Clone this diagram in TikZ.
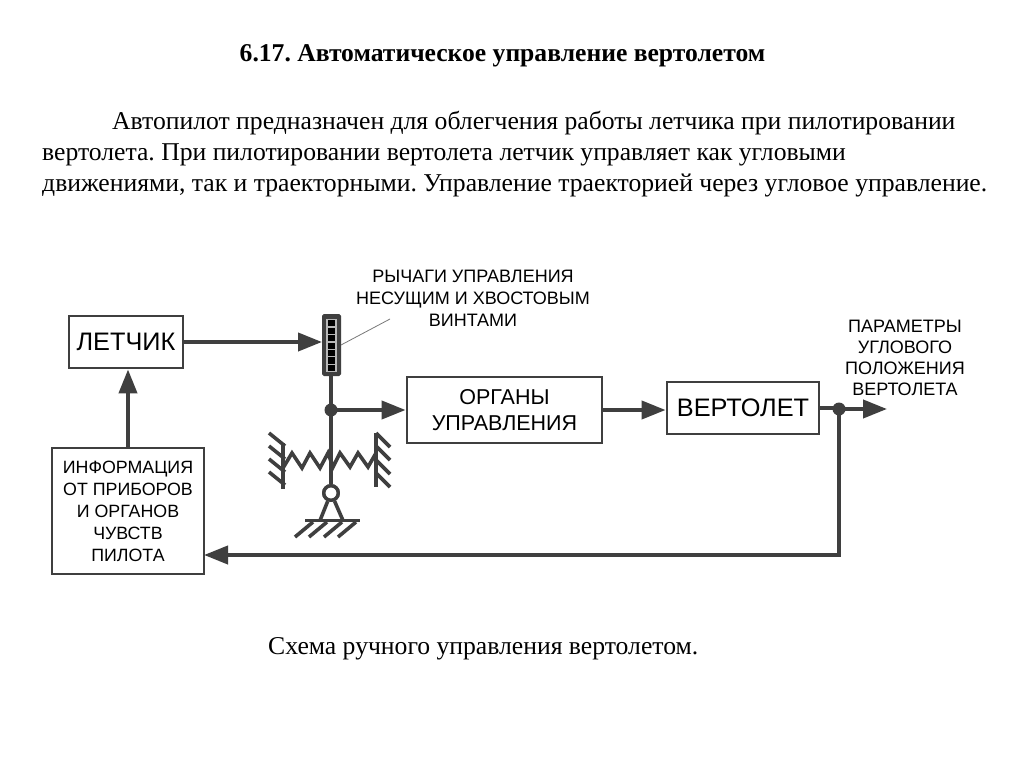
\documentclass[tikz,border=0pt]{standalone}
\usepackage{fontspec}
\setmainfont{Liberation Serif}
\newfontfamily\arialf{Liberation Sans}
\usetikzlibrary{arrows.meta,calc}
\definecolor{ink}{HTML}{3F3F3F}
\tikzset{
 blockbox/.style={draw=ink,line width=2.8pt,fill=white,inner sep=0pt,font=\arialf,align=center,text=black},
 lab/.style={font=\arialf\fontsize{18}{22}\selectfont,align=center,text=black,inner sep=0pt},
 para/.style={anchor=base west,inner sep=0pt,font=\frenchspacing\fontsize{25.65}{28}\selectfont,text=black},
 conn/.style={draw=ink,line width=4pt},
 arrowc/.style={conn,-{Triangle[length=24pt,width=18pt]}},
 mech/.style={draw=ink,line width=3.6pt},
 dot/.style={circle,fill=ink,inner sep=0pt,minimum size=13pt},
 pivotc/.style={circle,draw=ink,fill=white,line width=3.4pt,minimum size=14.5pt,inner sep=0pt},
}
\begin{document}
\begin{tikzpicture}[x=1pt,y=-1pt]
\useasboundingbox (0,0) rectangle (1024,767);
\fill[white] (0,0) rectangle (1024,767);
% texts
\node[anchor=base,inner sep=0pt,font=\frenchspacing\bfseries\fontsize{25.6}{28}\selectfont] (title) at (502.5,62) {6.17. Автоматическое управление вертолетом};
\node[para] (p1) at (112,129.5) {Автопилот предназначен для облегчения работы летчика при пилотировании};
\node[para] (p2) at (42,160.5) {вертолета. При пилотировании вертолета летчик управляет как угловыми};
\node[para] (p3) at (42,192) {движениями, так и траекторными. Управление траекторией через угловое управление.};
\node[para] (cap) at (268,654) {Схема ручного управления вертолетом.};
% blocks
\node[blockbox,minimum width=114pt,minimum height=52pt,font=\arialf\fontsize{25.3}{28}\selectfont] (pilot) at (126,342) {ЛЕТЧИК};
\node[blockbox,minimum width=152pt,minimum height=126pt,font=\arialf\fontsize{17.8}{22}\selectfont] (info) at (128,511) {ИНФОРМАЦИЯ\\ОТ ПРИБОРОВ\\И ОРГАНОВ\\ЧУВСТВ\\ПИЛОТА};
\node[blockbox,minimum width=195pt,minimum height=66pt,font=\arialf\fontsize{21.5}{25.5}\selectfont] (organs) at (504.5,410) {ОРГАНЫ\\УПРАВЛЕНИЯ};
\node[blockbox,minimum width=152pt,minimum height=52pt,font=\arialf\fontsize{25.3}{28}\selectfont] (heli) at (743,408) {ВЕРТОЛЕТ};
% lever
\node[draw=ink,fill=ink,line width=1pt,rounded corners=1.5pt,minimum width=18pt,minimum height=61pt,inner sep=0pt] (lever) at (331.5,345) {};
\foreach \i in {0,...,6}{
 \draw[draw=black!28,fill=black,line width=1.4pt] (327,{319.5+\i*7.45}) rectangle (336,{326.95+\i*7.45});
}
% labels
\node[lab] (l1) at (473,298) {РЫЧАГИ УПРАВЛЕНИЯ\\НЕСУЩИМ И ХВОСТОВЫМ\\ВИНТАМИ};
\node[lab,font=\arialf\fontsize{18}{21}\selectfont] (l2) at (905,357.5) {ПАРАМЕТРЫ\\УГЛОВОГО\\ПОЛОЖЕНИЯ\\ВЕРТОЛЕТА};
\coordinate (leadend) at (390,319);
\draw[draw=ink!70!white,line width=0.8pt] (lever.east) -- (leadend);
% junctions and connector ends
\node[dot] (j1) at (331,410) {};
\node[dot] (j2) at (839,409) {};
\coordinate (out) at (887,409);
\coordinate (fbin) at (204,555);
\node[pivotc] (pivot) at (331,493) {};
\coordinate (tl) at (320,520.5);
\coordinate (tr) at (343,520.5);
% connectors
\draw[arrowc] (pilot.east) -- (pilot.east -| lever.west);
\draw[arrowc] (info.north) -- (info.north |- pilot.south);
\draw[arrowc] (j1.center) -- (j1.center -| organs.west);
\draw[arrowc] (organs.east) -- (organs.east -| heli.west);
\draw[conn] (heli.east) -- (heli.east -| j2.center);
\draw[arrowc] (j2.center) -- (out);
\draw[arrowc] (j2.center) |- (fbin);
\draw[conn,line width=3.6pt] (lever.south -| j1.center) -- (j1.center);
\draw[conn,line width=3.6pt] (j1.center) -- (pivot);
% spring
\draw[mech,line join=miter] (283,468) -- (292,453) -- (302,468) -- (310,453) -- (320,468) -- (328,453) -- (333,467) -- (340,453) -- (350,467) -- (358,453) -- (368,467) -- (376,453);
% walls
\draw[mech] (283,443) -- (283,489);
\draw[mech] (376,433) -- (376,487);
\foreach \y in {433,446,459,472}{\draw[mech] (269,\y) -- (285,\y+13);}
\foreach \y in {433,446,460,473}{\draw[mech] (376,\y) -- (390,\y+14);}
% base
\draw[mech] (pivot) -- (tl);
\draw[mech] (pivot) -- (tr);
\node[pivotc] at (pivot) {};
\draw[mech] (305,520.5) -- (360,520.5);
\foreach \x in {295,309,324,338}{\draw[mech] (\x,537) -- (\x+18,522);}
\end{tikzpicture}
\end{document}
